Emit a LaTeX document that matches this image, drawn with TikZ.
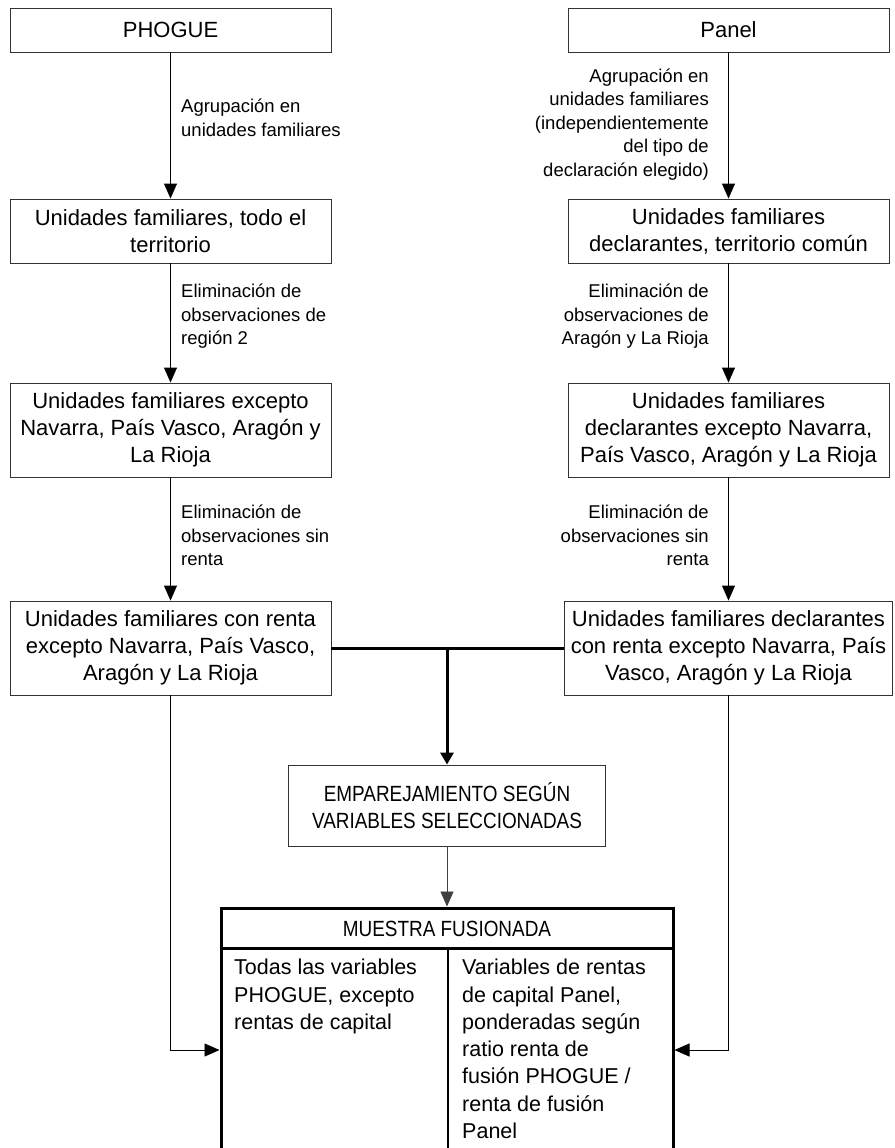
\documentclass[tikz,border=0pt]{standalone}
\usepackage{fontspec}
\setmainfont{Liberation Sans}
\newfontfamily\condfont[FakeStretch=0.86]{Liberation Sans}
\usetikzlibrary{arrows.meta}
\begin{document}
\begin{tikzpicture}[x=1pt,y=-1pt,
  boxfont/.style={font=\fontsize{22}{27}\selectfont},
  capsfont/.style={font=\condfont\fontsize{22}{27}\selectfont},
  lblfont/.style={font=\fontsize{18.5}{23.5}\selectfont},
  flowbox/.style={draw=black!80, line width=0.9pt, boxfont, align=center, inner sep=0pt, minimum height=#1},
  flowbox/.default=44pt,
  lblleft/.style={lblfont, align=left, anchor=west, inner sep=0pt},
  lblright/.style={lblfont, align=right, anchor=east, inner sep=0pt},
  thinarrow/.style={draw=black, line width=0.9pt, -{Triangle[width=13pt,length=15pt]}},
  thickline/.style={draw=black, line width=3pt},
  thickarrow/.style={thickline, -{Triangle[width=13pt,length=12pt]}},
  heavybox/.style={draw=black, line width=3pt, inner sep=0pt},
  coltext/.style={font=\fontsize{21.5}{27.3}\selectfont, align=left, anchor=north west, inner sep=0pt}
]
\useasboundingbox (0,0) rectangle (894,1148);
\fill[white] (0,0) rectangle (894,1148);
\clip (0,0) rectangle (894,1148);

% top boxes
\node[flowbox=44pt, minimum width=321pt] (phogue) at (170.5,30) {PHOGUE};
\node[flowbox=44pt, minimum width=321pt] (panel) at (728.5,30) {Panel};

% second row
\node[flowbox=64pt, minimum width=321pt] (lb2) at (170.5,231) {Unidades familiares, todo el\\territorio};
\node[flowbox=64pt, minimum width=321pt] (rb2) at (728.5,231) {Unidades familiares\\declarantes, territorio común};

% third row
\node[flowbox=94pt, minimum width=321pt] (lb3) at (170.5,430) {Unidades familiares excepto\\Navarra, País Vasco, Aragón y\\La Rioja};
\node[flowbox=94pt, minimum width=321pt] (rb3) at (728.5,430) {Unidades familiares\\declarantes excepto Navarra,\\País Vasco, Aragón y La Rioja};

% fourth row
\node[flowbox=94pt, minimum width=321pt] (lb4) at (170.5,648) {Unidades familiares con renta\\excepto Navarra, País Vasco,\\Aragón y La Rioja};
\node[flowbox=94pt, minimum width=328pt] (rb4) at (728.5,648) {Unidades familiares declarantes\\con renta excepto Navarra, País\\Vasco, Aragón y La Rioja};

% matching box
\node[flowbox=81pt, capsfont, minimum width=317pt] (empar) at (447,805.5) {EMPAREJAMIENTO SEGÚN\\VARIABLES SELECCIONADAS};

% merged sample box (open at the bottom, cut by the page)
\node[heavybox, minimum width=452pt, minimum height=284pt] (muestra) at (447,1050) {};
\node[capsfont, inner sep=0pt] (mhead) at (447,929) {MUESTRA FUSIONADA};
\coordinate (hl) at (221,948);
\coordinate (hr) at (673,948);
\coordinate (vt) at (448,948);
\coordinate (vb) at (448,1195);
\draw[thickline] (hl) -- (hr);
\draw[thickline, line width=2.8pt] (vt) -- (vb);
\node[coltext] (colL) at (234,959) {Todas las variables\\PHOGUE, excepto\\rentas de capital};
\node[coltext] (colR) at (462,959) {Variables de rentas\\de capital Panel,\\ponderadas según\\ratio renta de\\fusión PHOGUE /\\renta de fusión\\Panel};

% labels
\node[lblleft] (l1) at (181,118) {Agrupación en\\unidades familiares};
\node[lblright] (r1) at (709,124.5) {Agrupación en\\unidades familiares\\(independientemente\\del tipo de\\declaración elegido)};
\node[lblleft] (l2) at (181,316.5) {Eliminación de\\observaciones de\\región 2};
\node[lblright] (r2) at (709,316.5) {Eliminación de\\observaciones de\\Aragón y La Rioja};
\node[lblleft] (l3) at (181,535.5) {Eliminación de\\observaciones sin\\renta};
\node[lblright] (r3) at (709,535.5) {Eliminación de\\observaciones sin\\renta};

% vertical arrows
\draw[thinarrow] (phogue.south) -- (lb2.north);
\draw[thinarrow] (lb2.south) -- (lb3.north);
\draw[thinarrow] (lb3.south) -- (lb4.north);
\draw[thinarrow] (panel.south) -- (rb2.north);
\draw[thinarrow] (rb2.south) -- (rb3.north);
\draw[thinarrow] (rb3.south) -- (rb4.north);

% join
\coordinate (junc) at (empar.north |- lb4.east);
\draw[thickline] (lb4.east) -- (rb4.west);
\draw[thickarrow] (junc) -- (empar.north);
\draw[thinarrow, draw=black!75] (empar.south) -- (muestra.north);

% side feeds to merged sample
\draw[thinarrow] (lb4.south) |- (muestra.west);
\draw[thinarrow] (rb4.south) |- (muestra.east);
\end{tikzpicture}
\end{document}
